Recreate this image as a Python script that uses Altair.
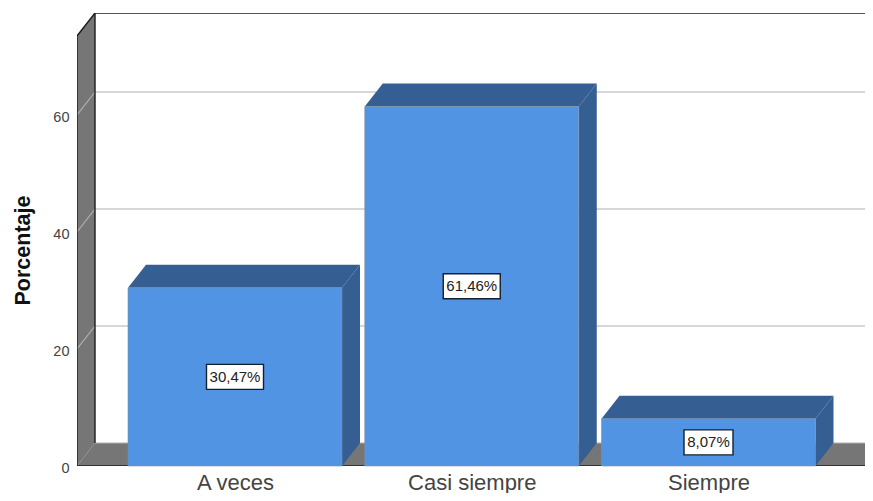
import altair as alt
import pandas as pd

categories = ["A veces", "Casi siempre", "Siempre"]
values = [30.47, 61.46, 8.07]
labels = ["30,47%", "61,46%", "8,07%"]
y_ticks = [0, 20, 40, 60]
grid_values = [20, 40, 60]

FONT = "Liberation Sans"
FRONT, SHADE, WALL = "#5294e4", "#355e93", "#767676"
EDGE, GRID = "#1c1c1c", "#b0b0b0"

# plot-area frame (plot width/height in px, scales in data units)
W, H = 788, 453
PX_X = 236.75          # px per category
PX_Y = 5.85            # px per percent
X_MIN = -158 / PX_X
X_MAX = X_MIN + W / PX_X
Y_MAX = H / PX_Y
DX = 18 / PX_X         # depth of the 3-D extrusion
DY = 23 / PX_Y
BAR = 107 / PX_X       # half bar width
WALL_TOP = Y_MAX - DY
FLOOR_R = X_MIN + 789 / PX_X

x_s = alt.Scale(domain=[X_MIN, X_MAX], nice=False, zero=False)
y_s = alt.Scale(domain=[0, Y_MAX], nice=False, zero=False)
X = alt.X("x:Q", scale=x_s)
Y = alt.Y("y:Q", scale=y_s)


def vface(rows, color):
    """Slanted vertical face: x, y .. y2 on a per-point basis."""
    return alt.Chart(pd.DataFrame(rows)).mark_area(
        color=color, opacity=1, clip=True, interpolate="linear", line=False
    ).encode(X, Y, y2="y2:Q", detail="k:N")


def hface(rows, color):
    """Slanted horizontal face: y, x .. x2 on a per-point basis."""
    return alt.Chart(pd.DataFrame(rows)).mark_area(
        color=color, opacity=1, clip=True, orient="horizontal", interpolate="linear"
    ).encode(Y, X, x2="x2:Q", detail="k:N")


def lines(rows, color, width):
    return alt.Chart(pd.DataFrame(rows)).mark_line(
        color=color, strokeWidth=width, clip=True
    ).encode(X, Y, detail="k:N", order="o:Q")


wall = vface([
    dict(k="w", x=X_MIN, y=0, y2=WALL_TOP),
    dict(k="w", x=X_MIN + DX, y=DY, y2=Y_MAX),
], WALL)
floor = hface([
    dict(k="f", y=0, x=X_MIN, x2=FLOOR_R),
    dict(k="f", y=DY, x=X_MIN + DX, x2=FLOOR_R + DX),
], WALL)

grid_rows = []
for v in grid_values:
    grid_rows += [
        dict(k=f"g{v}", o=0, x=X_MIN, y=v),
        dict(k=f"g{v}", o=1, x=X_MIN + DX, y=v + DY),
        dict(k=f"g{v}", o=2, x=X_MAX, y=v + DY),
    ]
grid_rows += [dict(k="floorback", o=0, x=X_MIN + DX, y=DY),
              dict(k="floorback", o=1, x=X_MAX, y=DY)]
grid = lines(grid_rows, GRID, 1.2)

frame = lines([
    dict(k="a", o=0, x=X_MIN, y=0),
    dict(k="a", o=1, x=X_MIN, y=WALL_TOP),
    dict(k="a", o=2, x=X_MIN + DX, y=Y_MAX),
    dict(k="a", o=3, x=X_MAX, y=Y_MAX),
    dict(k="b", o=0, x=X_MIN + DX, y=DY),
    dict(k="b", o=1, x=X_MIN + DX, y=Y_MAX),
    dict(k="c", o=0, x=X_MIN, y=0),
    dict(k="c", o=1, x=FLOOR_R, y=0),
    dict(k="c", o=2, x=FLOOR_R + DX, y=DY),
], EDGE, 1.4)

side_rows, top_rows, front_rows, box_rows, text_rows = [], [], [], [], []
for i, (c, v, l) in enumerate(zip(categories, values, labels)):
    xl, xr = i - BAR, i + BAR
    side_rows += [dict(k=c, x=xr, y=0, y2=v), dict(k=c, x=xr + DX, y=DY, y2=v + DY)]
    top_rows += [dict(k=c, y=v, x=xl, x2=xr), dict(k=c, y=v + DY, x=xl + DX, x2=xr + DX)]
    front_rows.append(dict(x=xl, x2=xr, y=0, y2=v))
    half = (8 * len(l) + 9) / 2 / PX_X
    box_rows.append(dict(x=i - half, x2=i + half, y=v / 2 - 12.5 / PX_Y, y2=v / 2 + 12.5 / PX_Y))
    text_rows.append(dict(x=i, y=v / 2, t=l))

side = vface(side_rows, SHADE)
top = hface(top_rows, SHADE)
front = alt.Chart(pd.DataFrame(front_rows)).mark_rect(
    color=FRONT, stroke="#7f8fa3", strokeWidth=0.6
).encode(X, x2="x2:Q", y=Y, y2="y2:Q")
boxes = alt.Chart(pd.DataFrame(box_rows)).mark_rect(
    fill="white", stroke="#14202e", strokeWidth=1.4
).encode(X, x2="x2:Q", y=Y, y2="y2:Q")
texts = alt.Chart(pd.DataFrame(text_rows)).mark_text(
    font=FONT, fontSize=15, color="#222222"
).encode(X, Y, text="t:N")

label_expr = "[" + ",".join(f"'{c}'" for c in categories) + "][datum.value]"
axes = alt.Chart(pd.DataFrame(dict(x=[0, 1, 2], y=[0, 0, 0]))).mark_point(opacity=0).encode(
    alt.X("x:Q", scale=x_s, axis=alt.Axis(
        values=[0, 1, 2], labelExpr=label_expr, title=None, grid=False, domain=False,
        ticks=False, labelPadding=6, labelFont=FONT, labelFontSize=22,
        labelColor="#444444", labelFontWeight="normal")),
    alt.Y("y:Q", scale=y_s, axis=alt.Axis(
        values=y_ticks, title="Porcentaje", grid=False, domain=False, ticks=False,
        labelPadding=8, labelFont=FONT, labelFontSize=14.5, labelColor="#444444",
        labelOffset=2,
        titleFont=FONT, titleFontSize=21.5, titleFontWeight="bold", titleColor="#111111",
        titleX=-43, titleY=237)),
)

chart = alt.layer(axes, wall, floor, grid, frame, side, top, front, boxes, texts).properties(
    width=W,
    height=H,
    padding={"left": 69, "top": 5, "right": 0, "bottom": 27},
    autosize=alt.AutoSizeParams(type="none"),
).configure_view(stroke=None)

chart.save("out.html", embed_options={"renderer": "svg", "actions": False})
